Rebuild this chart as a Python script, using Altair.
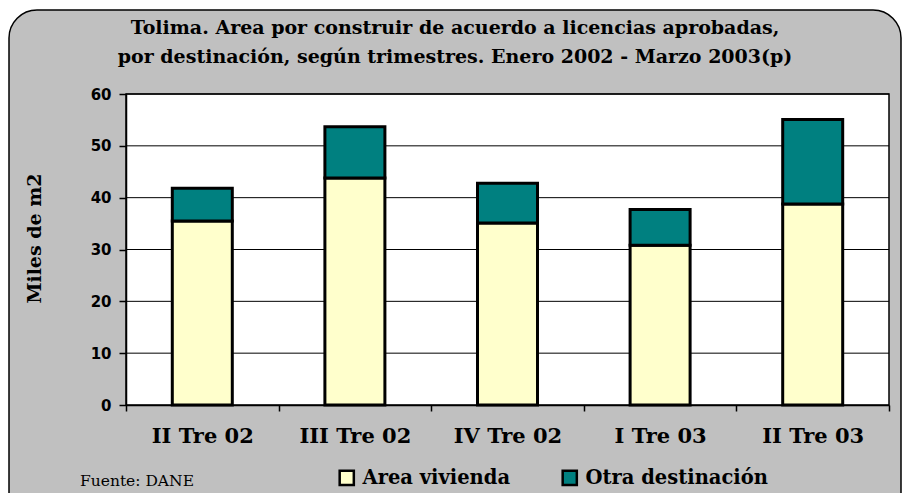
import altair as alt
import pandas as pd

categories = ["II Tre 02", "III Tre 02", "IV Tre 02", "I Tre 03", "II Tre 03"]
series = ["Area  vivienda", "Otra destinación"]
vivienda = [35.5, 43.8, 35.1, 30.8, 38.8]
otra = [6.3, 9.9, 7.7, 6.9, 16.3]
y_ticks = [0, 10, 20, 30, 40, 50, 60]
grid_values = [10, 20, 30, 40, 50, 60]
title_lines = [
    "Tolima.  Area por construir de acuerdo a licencias aprobadas,",
    "por destinación, según trimestres.  Enero 2002 - Marzo 2003(p)",
]
source_text = "Fuente: DANE"

W, H = 763, 311

rows = []
for i, c in enumerate(categories):
    rows.append({"cat": c, "serie": series[0], "val": vivienda[i], "ord": 0})
    rows.append({"cat": c, "serie": series[1], "val": otra[i], "ord": 1})
df = pd.DataFrame(rows)
one = pd.DataFrame({"k": [0]})
grid_df = pd.DataFrame({"val": grid_values})

y_scale = alt.Scale(domain=[0, 60], nice=False)
y_axis = alt.Axis(title="Miles de m2", values=y_ticks, grid=False,
                  labelFont="DejaVu Sans", labelFontWeight="bold",
                  labelFontSize=15, labelColor="black", labelPadding=8,
                  tickColor="black", tickSize=7, tickWidth=1.5,
                  domainColor="black", domainWidth=1.5,
                  titleFont="DejaVu Serif", titleFontWeight="bold",
                  titleFontSize=19, titleColor="black", titlePadding=46,
                  titleY=144, zindex=1)

frame = alt.Chart(one).mark_rect(
    fill="#C0C0C0", stroke="black", strokeWidth=1.5, cornerRadius=28, clip=False
).encode(
    x=alt.value(-117), x2=alt.value(W + 12), y=alt.value(-84), y2=alt.value(H + 140)
)

plot_bg = alt.Chart(one).mark_rect(
    fill="white", stroke="black", strokeWidth=1.5
).encode(x=alt.value(0), x2=alt.value(W), y=alt.value(0), y2=alt.value(H))

grid = alt.Chart(grid_df).mark_rule(color="black", strokeWidth=1).encode(
    y=alt.Y("val:Q", scale=y_scale, axis=y_axis),
    x=alt.value(0), x2=alt.value(W),
)

bars = alt.Chart(df).mark_bar(size=60, stroke="black", strokeWidth=3).encode(
    x=alt.X("cat:N", sort=categories,
            scale=alt.Scale(paddingInner=0, paddingOuter=0),
            axis=alt.Axis(title=None, labelAngle=0, tickBand="extent",
                          labelFont="DejaVu Serif", labelFontWeight="bold",
                          labelFontSize=21, labelColor="black", labelPadding=14,
                          tickColor="black", tickSize=6, tickWidth=1.5,
                          domainColor="black", domainWidth=1.5, zindex=1)),
    y=alt.Y("val:Q", stack="zero", scale=y_scale, axis=y_axis),
    color=alt.Color("serie:N", sort=series,
                    scale=alt.Scale(domain=series, range=["#FFFFCC", "#008080"]),
                    legend=alt.Legend(title=None, orient="none", direction="horizontal",
                                      legendX=211, legendY=H + 63,
                                      symbolType="square", symbolSize=200,
                                      symbolStrokeColor="black", symbolStrokeWidth=2.5,
                                      labelFont="DejaVu Serif", labelFontWeight="bold",
                                      labelFontSize=19.5, labelColor="black",
                                      labelOffset=6,
                                      columnPadding=40, labelLimit=400)),
    order=alt.Order("ord:Q"),
)

title = alt.Chart(one).mark_text(
    text=title_lines, font="DejaVu Serif", fontWeight="bold", fontSize=19,
    lineHeight=29, align="center", baseline="middle", color="black"
).encode(x=alt.value(329), y=alt.value(-66))

source = alt.Chart(one).mark_text(
    text=source_text, font="DejaVu Serif", fontSize=15.5, align="left",
    baseline="middle", color="black"
).encode(x=alt.value(-46), y=alt.value(H + 76))

chart = alt.layer(frame, plot_bg, grid, bars, title, source).properties(
    width=W, height=H,
    autosize=alt.AutoSizeParams(type="none"),
    padding={"left": 118, "top": 86, "right": 14, "bottom": 88},
    background="white",
).configure_view(stroke=None, fill=None)

chart.save("out.html", embed_options={"renderer": "svg", "actions": False})
